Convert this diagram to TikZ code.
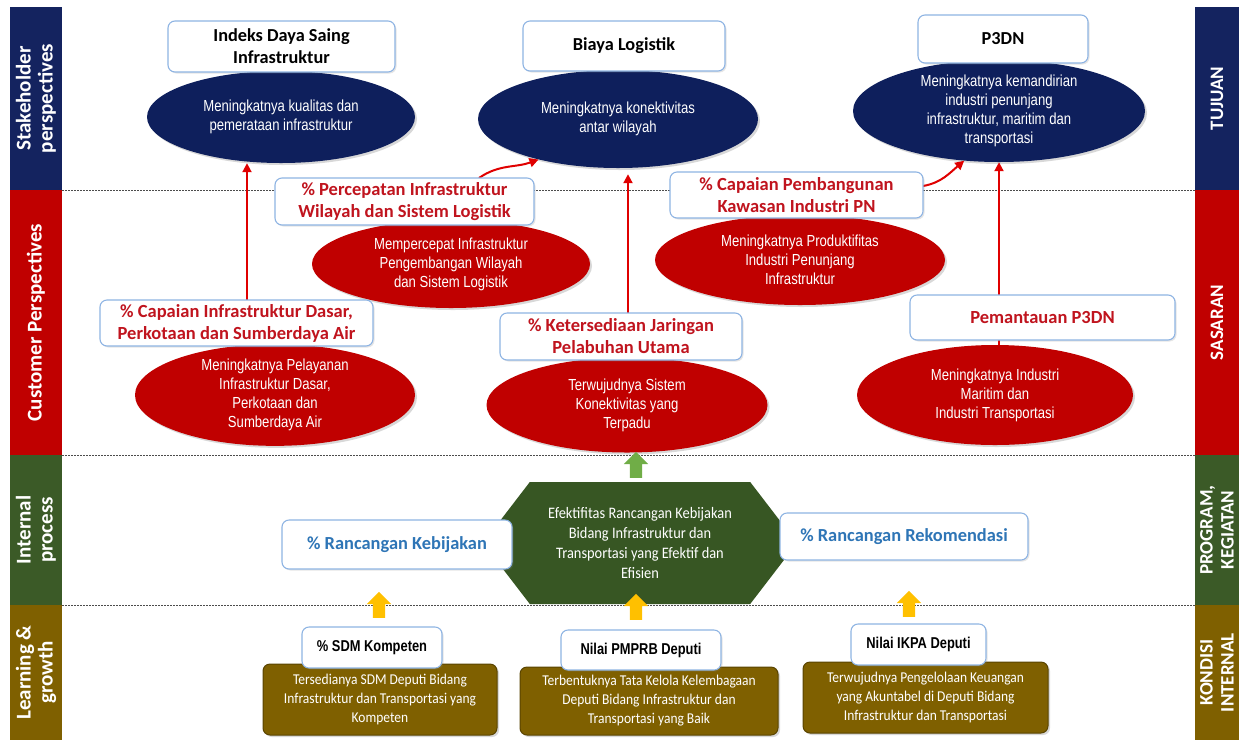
\documentclass[tikz,border=0pt]{standalone}
\usepackage{fontspec}
\setmainfont{Carlito}
\newfontfamily\narrowsans[FakeStretch=0.82]{Liberation Sans}
\newfontfamily\condsans[FakeStretch=0.9]{Carlito}
\usetikzlibrary{shapes.geometric, shapes.symbols, shapes.arrows, arrows.meta, positioning, shadows}

\definecolor{navyband}{HTML}{14235F}
\definecolor{navyfill}{HTML}{0E1F5C}
\definecolor{redband}{HTML}{C00000}
\definecolor{redfill}{HTML}{C00000}
\definecolor{greenband}{HTML}{3B5A27}
\definecolor{hexgreen}{HTML}{375623}
\definecolor{brownband}{HTML}{7F6000}
\definecolor{brownline}{HTML}{5A4400}
\definecolor{boxline}{HTML}{8EB4E3}
\definecolor{redtext}{HTML}{C0141E}
\definecolor{bluetext}{HTML}{2E75B6}
\definecolor{arrowred}{HTML}{E00000}
\definecolor{upgreen}{HTML}{70AD47}
\definecolor{upyellow}{HTML}{FFC000}

\begin{document}
\begin{tikzpicture}[
    x=1pt, y=1pt,
    band/.style={rectangle, rotate=90, inner sep=0pt, text=white, align=center, font=\bfseries\fontsize{21}{22}\selectfont},
    sideband/.style={band, font=\bfseries\fontsize{19}{21}\selectfont},
    kpibox/.style={rectangle, draw=boxline, line width=1.1pt, fill=white, rounded corners=7pt, align=center, inner sep=2pt, drop shadow={opacity=0.2, shadow xshift=1.5pt, shadow yshift=-1.5pt}},
    topkpi/.style={kpibox, font=\bfseries\fontsize{18.3}{22}\selectfont},
    redkpi/.style={kpibox, text=redtext, font=\bfseries\fontsize{18.5}{22}\selectfont},
    bluekpi/.style={kpibox, text=bluetext, font=\bfseries\fontsize{18.4}{22}\selectfont},
    smallkpi/.style={kpibox, font=\narrowsans\bfseries\fontsize{15.7}{18}\selectfont},
    goal/.style={ellipse, fill=navyfill, text=white, align=center, inner sep=0pt, font=\narrowsans\fontsize{16}{19}\selectfont, drop shadow={opacity=0.3, shadow xshift=2pt, shadow yshift=-2pt}},
    target/.style={goal, fill=redfill},
    condition/.style={rectangle, rounded corners=7pt, fill=brownband, draw=brownline, line width=1pt, text=white, align=center, font=\condsans\fontsize{15}{19}\selectfont, drop shadow={opacity=0.3, shadow xshift=2pt, shadow yshift=-2pt}},
    redarrow/.style={-{Triangle[length=9pt, width=9pt]}, line width=2pt, draw=arrowred},
    uparrow/.style={single arrow, rotate=90, draw=none, inner sep=6pt, single arrow head extend=6pt, minimum height=26pt},
    sepline/.style={dashed, dash pattern=on 2pt off 1pt, line width=0.8pt, draw=black!70}
]
\useasboundingbox (0,0) rectangle (1239,-740);
\fill[white] (0,0) rectangle (1239,-740);

% Perspective bands
\node[band, fill=navyband, minimum width=183pt, minimum height=52pt] (sh) at (36,-98.5) {Stakeholder\\perspectives};
\node[band, fill=redband, minimum width=265pt, minimum height=52pt] (cp) at (36,-322.5) {Customer Perspectives};
\node[band, fill=greenband, minimum width=150pt, minimum height=52pt] (ip) at (36,-530) {Internal\\process};
\node[band, fill=brownband, minimum width=135pt, minimum height=52pt] (lg) at (36,-672.5) {Learning \&\\growth};

\node[sideband, fill=navyband, minimum width=183pt, minimum height=44pt] (tj) at (1217,-98.5) {TUJUAN};
\node[sideband, fill=redband, minimum width=265pt, minimum height=44pt] (ss) at (1217,-322.5) {SASARAN};
\node[sideband, fill=greenband, minimum width=150pt, minimum height=44pt] (pk) at (1217,-530) {PROGRAM,\\KEGIATAN};
\node[sideband, fill=brownband, minimum width=135pt, minimum height=44pt] (ki) at (1217,-672.5) {KONDISI\\INTERNAL};

% Separators
\draw[sepline] (62,-190) -- (1195,-190);
\draw[sepline] (62,-455) -- (1195,-455);
\draw[sepline] (62,-605) -- (1195,-605);

% Tujuan
\node[goal, minimum width=268pt, minimum height=92pt] (el1) at (281,-117) {Meningkatnya kualitas dan\\pemerataan infrastruktur};
\node[goal, minimum width=280pt, minimum height=98pt] (el2) at (618,-119) {Meningkatnya konektivitas\\antar wilayah};
\node[goal, minimum width=292pt, minimum height=102pt] (el3) at (999,-111) {Meningkatnya kemandirian\\industri penunjang\\infrastruktur, maritim dan\\transportasi};

% Sasaran
\node[target, minimum width=278pt, minimum height=88pt] (mpi) at (451,-264) {Mempercepat Infrastruktur\\Pengembangan Wilayah\\dan Sistem Logistik};
\node[target, minimum width=290pt, minimum height=90pt] (mpd) at (800,-260) {Meningkatnya Produktifitas\\Industri Penunjang\\Infrastruktur};
\node[target, minimum width=280pt, minimum height=100pt] (mpl) at (275,-395) {Meningkatnya Pelayanan\\Infrastruktur Dasar,\\Perkotaan dan\\Sumberdaya Air};
\node[target, minimum width=281pt, minimum height=95pt] (tsk) at (627,-405) {Terwujudnya Sistem\\Konektivitas yang\\Terpadu};
\node[target, minimum width=276pt, minimum height=100pt] (mim) at (995,-395) {Meningkatnya Industri\\Maritim dan\\Industri Transportasi};

% Arrows
\coordinate (a1) at (247,-300);
\draw[redarrow] (a1) -- (a1 |- el1.south);
\draw[redarrow] (479,-178) to[out=35, in=200] (el2.207);
\coordinate (a3) at ([xshift=10pt]el2.south);
\draw[redarrow, shorten >=6pt] (a3 |- 0,-313) -- (a3);
\draw[redarrow] (923,-186) to[out=10, in=220] (el3.235);
\draw[redarrow] (mim.north -| el3.south) -- (el3.south);

% Indicators
\node[topkpi, minimum width=227pt, minimum height=51pt] (ids) at (281.5,-46.5) {Indeks Daya Saing\\Infrastruktur};
\node[topkpi, minimum width=202pt, minimum height=50pt] (blg) at (624,-46) {Biaya Logistik};
\node[topkpi, minimum width=170pt, minimum height=48pt] (p3d) at (1003,-39) {P3DN};
\node[redkpi, minimum width=259pt, minimum height=47pt] (pct) at (404.5,-201.5) {\% Percepatan Infrastruktur\\Wilayah dan Sistem Logistik};
\node[redkpi, minimum width=253pt, minimum height=46pt] (cpb) at (796.5,-195) {\% Capaian Pembangunan\\Kawasan Industri PN};
\node[redkpi, minimum width=273pt, minimum height=46pt] (cid) at (236.5,-323) {\% Capaian Infrastruktur Dasar,\\Perkotaan dan Sumberdaya Air};
\node[redkpi, minimum width=242pt, minimum height=47pt] (ktj) at (621,-336.5) {\% Ketersediaan Jaringan\\Pelabuhan Utama};
\node[redkpi, minimum width=265pt, minimum height=45pt] (pem) at (1042.5,-317.5) {Pemantauan P3DN};

% Program, kegiatan
\node[uparrow, fill=upgreen] (gup) at (636,-468) {};
\node[signal, signal to=east and west, signal pointer angle=105, minimum width=314pt, minimum height=122pt, inner sep=0pt, fill=hexgreen, text=white, align=center, font=\condsans\fontsize{16}{20}\selectfont] (efk) at (640,-543) {Efektifitas Rancangan Kebijakan\\Bidang Infrastruktur dan\\Transportasi yang Efektif dan\\Efisien};
\node[bluekpi, minimum width=230pt, minimum height=49pt] (rkb) at (397,-544.5) {\% Rancangan Kebijakan};
\node[bluekpi, minimum width=248pt, minimum height=47pt] (rrk) at (904,-536.5) {\% Rancangan Rekomendasi};

% Kondisi internal
\node[uparrow, fill=upyellow] (yup1) at (379,-608) {};
\node[uparrow, fill=upyellow] (yup2) at (636,-610) {};
\node[uparrow, fill=upyellow] (yup3) at (909,-607) {};
\node[condition, minimum width=234pt, minimum height=71pt] (bsdm) at (380,-699.5) {Tersedianya SDM Deputi Bidang\\Infrastruktur dan Transportasi yang\\Kompeten};
\node[condition, minimum width=258pt, minimum height=68pt] (bpmp) at (649,-701) {Terbentuknya Tata Kelola Kelembagaan\\Deputi Bidang Infrastruktur dan\\Transportasi yang Baik};
\node[condition, minimum width=245pt, minimum height=71pt] (bikp) at (925.5,-697.5) {Terwujudnya Pengelolaan Keuangan\\yang Akuntabel di Deputi Bidang\\Infrastruktur dan Transportasi};
\node[smallkpi, minimum width=140pt, minimum height=41pt] (sdm) at (372,-647.5) {\% SDM Kompeten};
\node[smallkpi, minimum width=160pt, minimum height=40pt] (pmp) at (641,-650) {Nilai PMPRB Deputi};
\node[smallkpi, minimum width=135pt, minimum height=41pt] (ikp) at (918.5,-644.5) {Nilai IKPA Deputi};

\end{tikzpicture}
\end{document}
